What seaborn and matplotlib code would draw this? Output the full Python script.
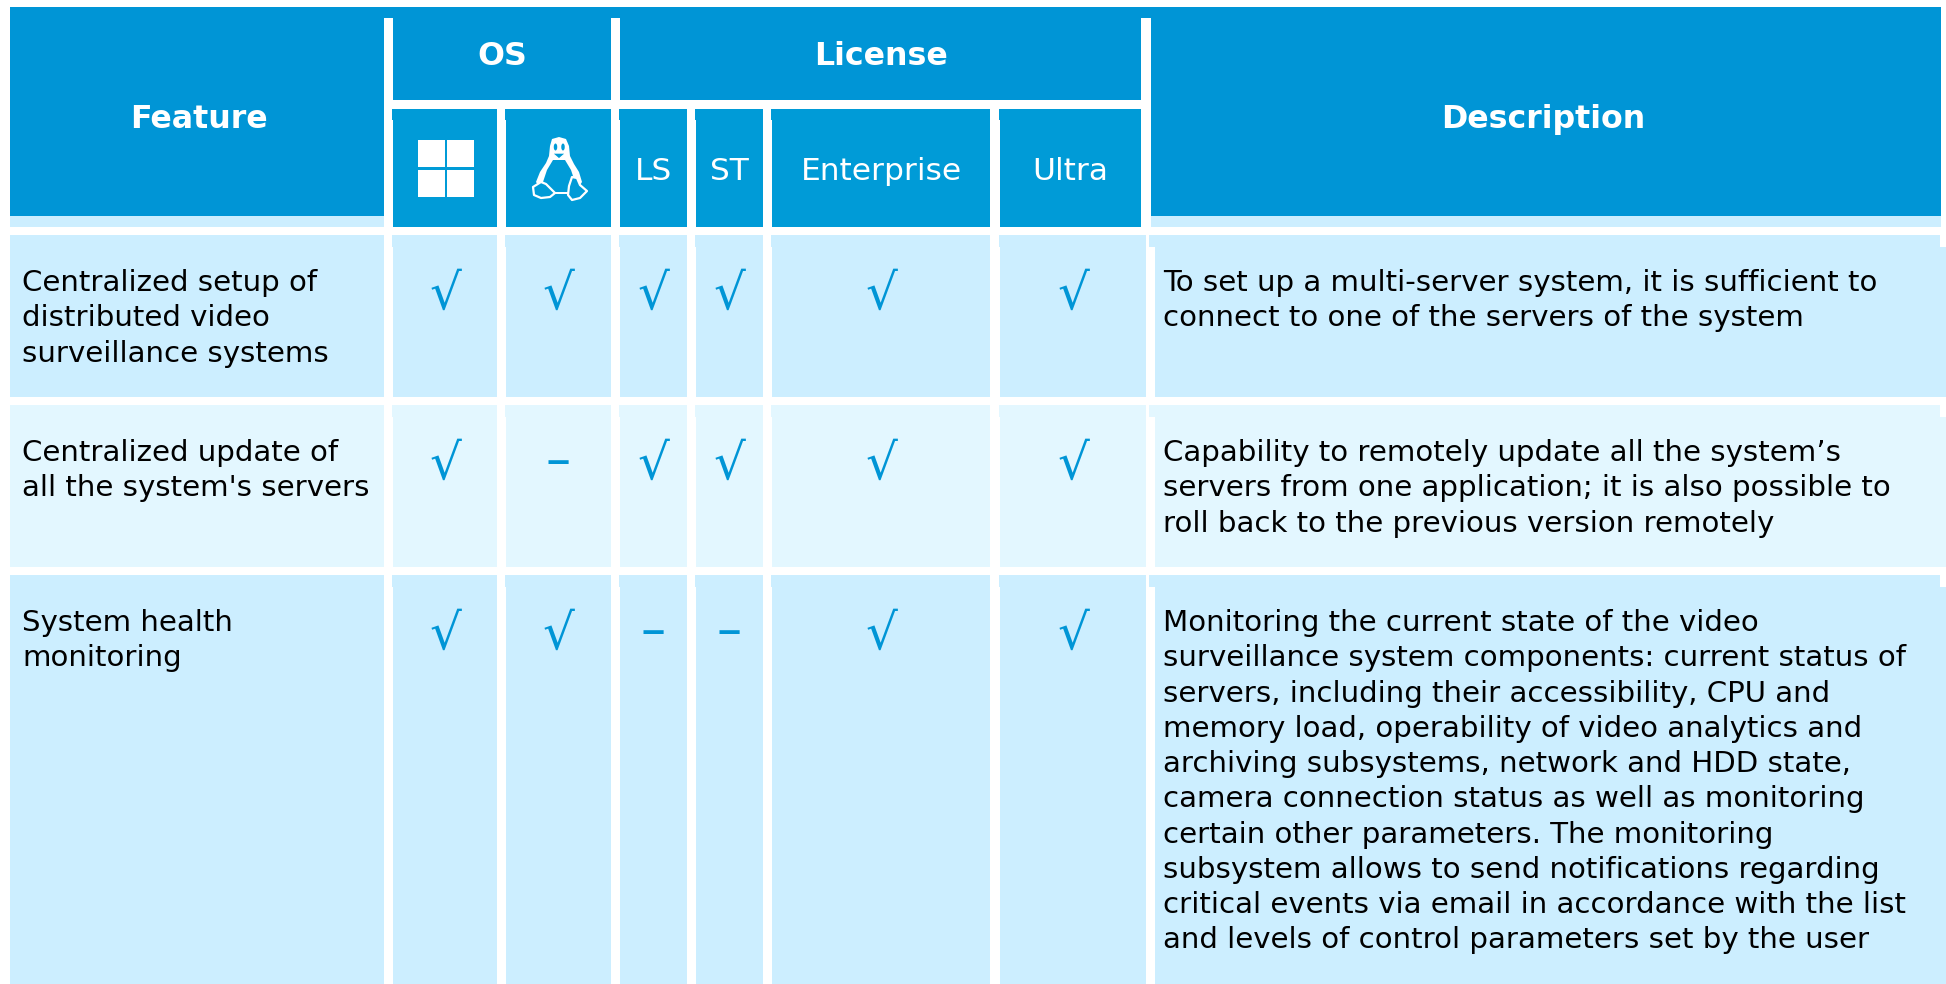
import matplotlib
matplotlib.use("Agg")
import matplotlib.pyplot as plt
from matplotlib.patches import Rectangle, Ellipse, Polygon
import seaborn as sns

# table content
features = [
    "Centralized setup of\ndistributed video\nsurveillance systems",
    "Centralized update of\nall the system's servers",
    "System health\nmonitoring",
]
descriptions = [
    "To set up a multi-server system, it is sufficient to\nconnect to one of the servers of the system",
    "Capability to remotely update all the system\u2019s\nservers from one application; it is also possible to\nroll back to the previous version remotely",
    "Monitoring the current state of the video\nsurveillance system components: current status of\nservers, including their accessibility, CPU and\nmemory load, operability of video analytics and\narchiving subsystems, network and HDD state,\ncamera connection status as well as monitoring\ncertain other parameters. The monitoring\nsubsystem allows to send notifications regarding\ncritical events via email in accordance with the list\nand levels of control parameters set by the user",
]
sub_labels = ["", "", "LS", "ST", "Enterprise", "Ultra"]
support = [
    [1, 1, 1, 1, 1, 1],
    [1, 0, 1, 1, 1, 1],
    [1, 1, 0, 0, 1, 1],
]

# layout in pixels
col_left = [393, 506, 620, 696, 772, 1000]
col_right = [497, 611, 687, 763, 990, 1141]
row_top = [235, 405, 575]
row_bottom = [397, 567, 984]
row_colors = ["#cceeff", "#e3f7ff", "#cceeff"]

DARK = "#0095d6"
SUB = "#009bd7"
LIGHT = "#cceeff"

sns.set_theme(style="white")
plt.rcParams["font.family"] = ["DejaVu Sans"]

fig = plt.figure(figsize=(19.46, 9.84), dpi=100)
ax = fig.add_axes([0, 0, 1, 1])
ax.set_xlim(0, 1946)
ax.set_ylim(984, 0)
ax.axis("off")


def box(x0, y0, x1, y1, color):
    ax.add_patch(Rectangle((x0, y0), x1 - x0, y1 - y0, fc=color, ec="none", lw=0))


# header
box(10, 7, 1941, 216, DARK)
box(10, 216, 384, 227, LIGHT)
box(1151, 216, 1941, 227, LIGHT)
box(384, 18, 1151, 235, "white")
box(393, 18, 611, 100, DARK)
box(620, 18, 1141, 100, DARK)
box(384, 7, 1151, 18, DARK)
for i in range(6):
    box(col_left[i], 109, col_right[i], 227, SUB)
    box(col_left[i] - 1, 109, col_right[i], 120, SUB)

head_font = dict(color="white", fontsize=22.8, fontweight="bold", ha="center", va="center")
ax.text(199, 119.5, "Feature", **head_font)
ax.text(502, 56.5, "OS", **head_font)
ax.text(881, 56.5, "License", **head_font)
ax.text(1543, 119.5, "Description", **head_font)
for i in range(2, 6):
    ax.text((col_left[i] + col_right[i]) / 2, 172, sub_labels[i], color="white", fontsize=22.5,
            ha="center", va="center")

# windows logo
box(418, 140, 445, 167, "white")
box(447, 140, 474, 167, "white")
box(418, 170, 445, 197, "white")
box(447, 170, 474, 197, "white")

# linux penguin
ax.add_patch(Polygon([[559, 137], [566, 139], [569, 146], [570, 156], [574, 164], [579, 172], [582, 182],
                      [578, 188], [570, 194], [548, 194], [540, 188], [536, 182], [540, 172], [546, 163],
                      [549, 156], [550, 146], [552, 139]], fc="white", ec="none"))
ax.add_patch(Polygon([[553, 160], [565, 160], [571, 170], [575, 182], [568, 192], [550, 192], [543, 182],
                      [547, 170]], fc=SUB, ec="none"))
ax.add_patch(Ellipse((555.5, 147), 3.5, 7, fc=SUB, ec="none"))
ax.add_patch(Ellipse((563, 147), 3.5, 7, fc=SUB, ec="none"))
ax.add_patch(Polygon([[552, 153], [566, 153], [559, 159]], fc=SUB, ec="white", lw=1))
ax.add_patch(Polygon([[533, 187], [541, 182], [546, 184], [555, 193], [550, 197], [541, 198], [534, 195]],
                     fc=SUB, ec="white", lw=1.6, joinstyle="round"))
ax.add_patch(Polygon([[587, 191], [580, 185], [577, 178], [572, 177], [569, 186], [568, 195], [572, 200],
                     [580, 198]], fc=SUB, ec="white", lw=1.6, joinstyle="round"))

# body rows
for r in range(3):
    top, bottom, color = row_top[r], row_bottom[r], row_colors[r]
    box(10, top, 384, bottom, color)
    box(1155, top + 12, 1946, bottom, color)
    box(1149, top, 1940, top + 12, color)
    for i in range(6):
        right = 1146 if i == 5 else col_right[i]
        box(col_left[i], top, right, bottom, color)
        box(col_left[i] - 1, top, right, top + 12, color)
        if support[r][i]:
            ax.text((col_left[i] + right) / 2, top + 60, "\u221a", color=DARK, fontsize=36,
                    ha="center", va="center")
        else:
            ax.text((col_left[i] + right) / 2, top + 57, "\u2013", color=DARK, fontsize=36,
                    ha="center", va="center")
    ax.text(22, top + 34, features[r], color="black", fontsize=21.1, va="top", linespacing=1.33)
    ax.text(1163, top + 34, descriptions[r], color="black", fontsize=21.1, va="top", linespacing=1.33)

fig.savefig("out.png", dpi=100)
